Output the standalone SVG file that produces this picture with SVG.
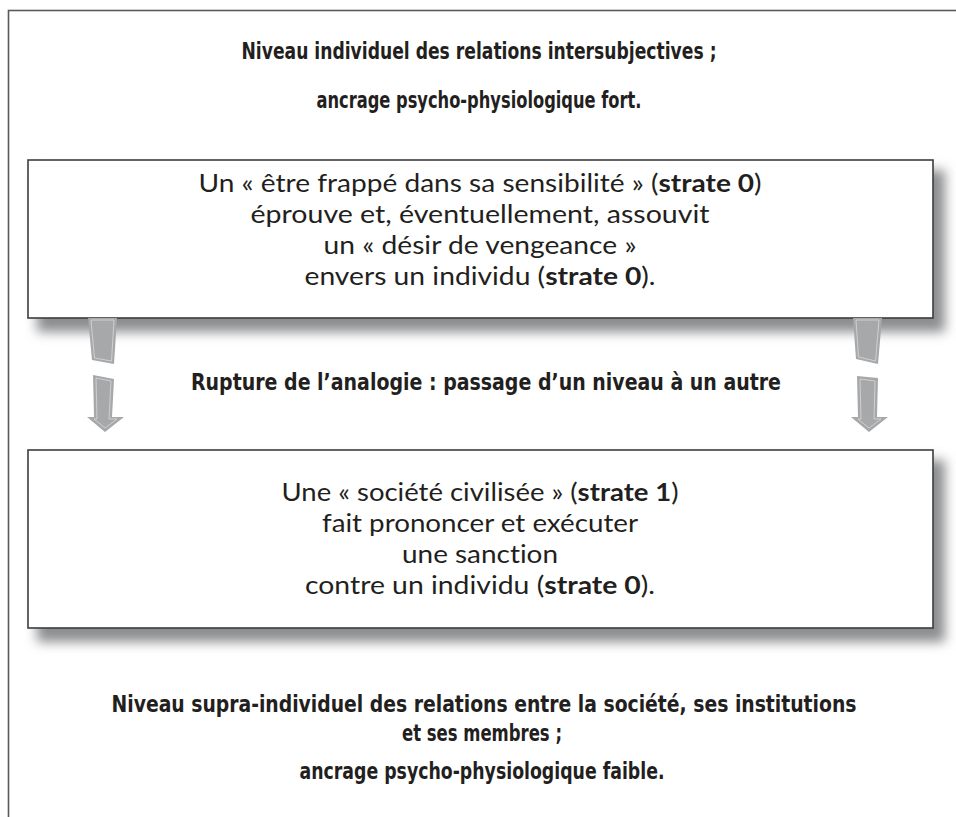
<svg xmlns="http://www.w3.org/2000/svg" width="956" height="817" viewBox="0 0 956 817">
<defs>
<style>
.hd{font-family:"DejaVu Sans Condensed","DejaVu Sans","Liberation Sans",sans-serif;font-weight:bold;font-size:23.5px;fill:#231f20;text-anchor:middle;font-stretch:condensed}
.bd{font-family:Lato,"Open Sans",sans-serif;font-size:25.5px;fill:#231f20;text-anchor:middle;font-variant-ligatures:none}
.b{font-weight:bold}
.box{fill:#fff;stroke:#3d3d3f;stroke-width:1.6}
.sh{fill:#8c8d8f;filter:url(#blur)}
.ar{fill:#a7a8aa}
.ai{fill:none;stroke:#d4d4d6;stroke-width:0.9}
</style>
<filter id="blur" x="-10%" y="-20%" width="120%" height="140%"><feGaussianBlur stdDeviation="6"/></filter>
</defs>
<rect x="8.5" y="10.5" width="1000" height="1000" fill="#fff" stroke="#5a5a5c" stroke-width="1.6"/>
<text class="hd" x="479" y="59" textLength="475" lengthAdjust="spacingAndGlyphs">Niveau individuel des relations intersubjectives ;</text>
<text class="hd" x="479" y="108" textLength="325" lengthAdjust="spacingAndGlyphs">ancrage psycho-physiologique fort.</text>

<g id="box1">
<rect class="sh" x="37" y="170" width="908" height="162"/>
<rect class="box" x="28" y="160" width="905" height="158"/>
<text class="bd" x="480" y="192" textLength="563" lengthAdjust="spacingAndGlyphs">Un « être frappé dans sa sensibilité » (<tspan class="b">strate 0</tspan>)</text>
<text class="bd" x="480" y="223" textLength="459" lengthAdjust="spacingAndGlyphs">éprouve et, éventuellement, assouvit</text>
<text class="bd" x="480" y="254" textLength="313" lengthAdjust="spacingAndGlyphs">un « désir de vengeance »</text>
<text class="bd" x="480" y="285" textLength="351" lengthAdjust="spacingAndGlyphs">envers un individu (<tspan class="b">strate 0</tspan>).</text>
</g>

<g id="box2">
<rect class="sh" x="37" y="460" width="908" height="182"/>
<rect class="box" x="28" y="450" width="905" height="178"/>
<text class="bd" x="480" y="501" textLength="397" lengthAdjust="spacingAndGlyphs">Une « société civilisée » (<tspan class="b">strate 1</tspan>)</text>
<text class="bd" x="480" y="532" textLength="316" lengthAdjust="spacingAndGlyphs">fait prononcer et exécuter</text>
<text class="bd" x="480" y="563" textLength="156" lengthAdjust="spacingAndGlyphs">une sanction</text>
<text class="bd" x="480" y="594" textLength="350" lengthAdjust="spacingAndGlyphs">contre un individu (<tspan class="b">strate 0</tspan>).</text>
</g>

<g id="connectors">
<polygon class="ar" points="88,318 117,318 114,364 92,360"/>
<polygon class="ai" points="91,320 114,320 111.5,361 94.5,358"/>
<polygon class="ar" points="93,375 114,379 112,417 124,417 105,432 87,417 94,417"/>
<polygon class="ai" points="96,378 111,381 109,419 117,419 105,428 94,419 97,419"/>
<polygon class="ar" points="853,318 882,318 878,364 856,359"/>
<polygon class="ai" points="856,320 879,320 875.5,361 858.5,357"/>
<polygon class="ar" points="857,376 878,378 877,417 888,417 869,432 851,417 858,417"/>
<polygon class="ai" points="860,379 875,381 874,419 881,419 869,428 858,419 861,419"/>
</g>

<text class="hd" x="486" y="390" textLength="590" lengthAdjust="spacingAndGlyphs">Rupture de l’analogie : passage d’un niveau à un autre</text>
<text class="hd" x="484" y="712" textLength="745" lengthAdjust="spacingAndGlyphs">Niveau supra-individuel des relations entre la société, ses institutions</text>
<text class="hd" x="482" y="741" textLength="160" lengthAdjust="spacingAndGlyphs">et ses membres ;</text>
<text class="hd" x="482" y="779" textLength="365" lengthAdjust="spacingAndGlyphs">ancrage psycho-physiologique faible.</text>
</svg>
